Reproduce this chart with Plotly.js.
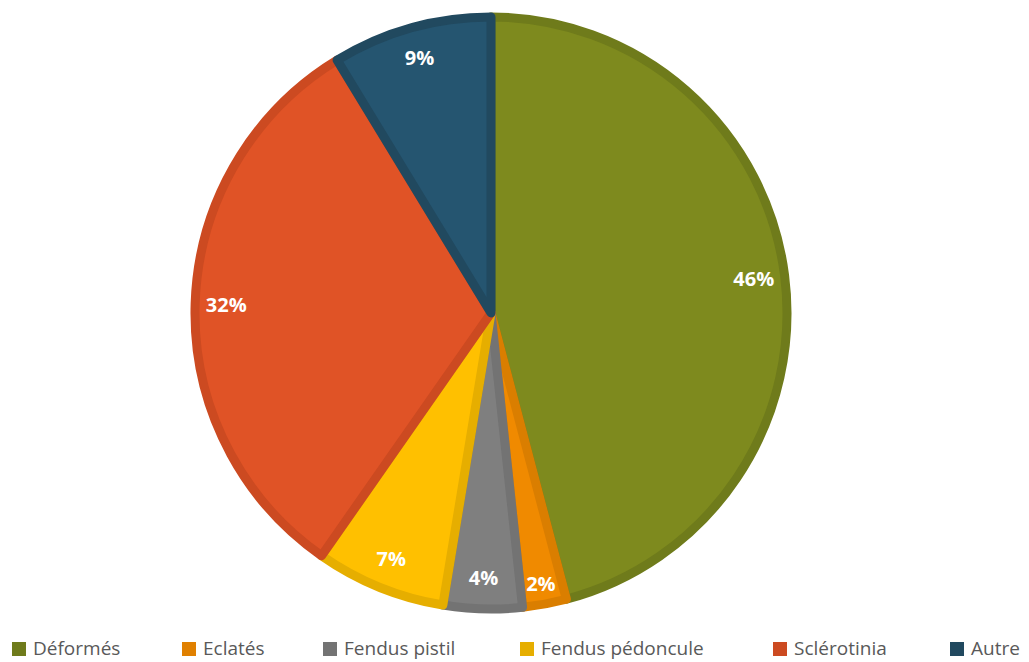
<!DOCTYPE html>
<html>
<head>
<meta charset="utf-8">
<script src="https://cdn.plot.ly/plotly-3.0.1.min.js"></script>
<style>html,body{margin:0;padding:0;background:#fff;}#chart{width:1029px;height:662px;}</style>
</head>
<body>
<div id="chart"></div>
<script>
const categories = ["Déformés", "Eclatés", "Fendus pistil", "Fendus pédoncule", "Sclérotinia", "Autre"];
const shares = [45.9, 2.4, 4.3, 7.1, 31.6, 8.7];
const fillColors = ["#7E8A1E", "#F08A00", "#7F7F7F", "#FFC000", "#E05326", "#255570"];
const edgeColors = ["#6F7B1B", "#DA7E00", "#737373", "#E6AE00", "#CC4A21", "#21495F"];
const legendSwatchColors = ["#6F7B1B", "#E08000", "#737373", "#E6AE00", "#CC4A21", "#21495F"];

// layout helpers (positions of legend entries, in pixels)
const W = 1029, H = 662;
const legendX = [12, 182, 323, 520, 773, 950];
const legendY = 649;

const pieDomain = {x: [0, 982 / W], y: [(H - 609) / H, (H - 17) / H]};

const base = {
  type: "pie",
  labels: categories,
  values: shares,
  sort: false,
  direction: "clockwise",
  rotation: 0,
  domain: pieDomain
};

const traces = [
  Object.assign({}, base, {
    marker: {colors: fillColors, line: {color: edgeColors, width: 9}},
    textinfo: "none",
    hoverinfo: "label+percent",
    showlegend: false
  }),
  Object.assign({}, base, {
    hole: 0.79,
    marker: {colors: categories.map(() => "rgba(0,0,0,0)"), line: {width: 0}},
    textinfo: "percent",
    texttemplate: "%{percent:.0%}",
    textposition: "inside",
    insidetextorientation: "horizontal",
    insidetextfont: {color: "#ffffff", size: 20, family: "Open Sans, sans-serif", weight: "bold"},
    hoverinfo: "skip",
    showlegend: false
  })
];

const shapes = categories.map((c, i) => ({
  type: "rect",
  xref: "paper", yref: "paper",
  x0: legendX[i] / W, x1: (legendX[i] + 14) / W,
  y0: (H - legendY - 7) / H, y1: (H - legendY + 7) / H,
  fillcolor: legendSwatchColors[i],
  line: {width: 0}
}));

const annotations = categories.map((c, i) => ({
  text: c,
  xref: "paper", yref: "paper",
  x: (legendX[i] + 20) / W,
  y: (H - legendY + 1) / H,
  xanchor: "left", yanchor: "middle",
  borderpad: 0,
  showarrow: false,
  font: {family: "Open Sans, sans-serif", size: 19, color: "#595959"}
}));

const layout = {
  width: W,
  height: H,
  paper_bgcolor: "#ffffff",
  plot_bgcolor: "#ffffff",
  margin: {l: 0, r: 0, t: 0, b: 0, pad: 0},
  showlegend: false,
  shapes: shapes,
  annotations: annotations
};

Plotly.newPlot("chart", traces, layout, {displayModeBar: false, staticPlot: true});
</script>
</body>
</html>
